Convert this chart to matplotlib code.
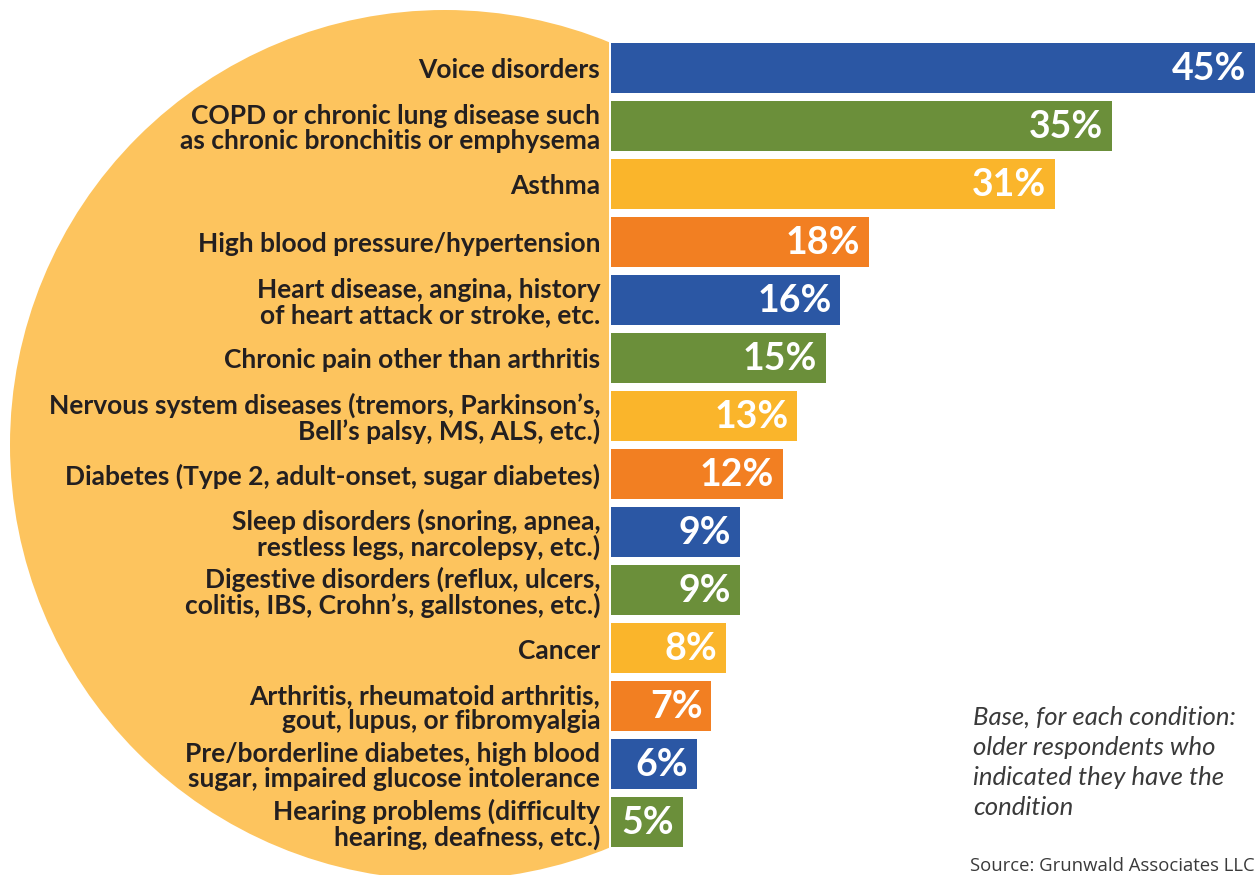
import matplotlib.pyplot as plt
from matplotlib.patches import Circle

conditions = [
    "Voice disorders",
    "COPD or chronic lung disease such\nas chronic bronchitis or emphysema",
    "Asthma",
    "High blood pressure/hypertension",
    "Heart disease, angina, history\nof heart attack or stroke, etc.",
    "Chronic pain other than arthritis",
    "Nervous system diseases (tremors, Parkinson\u2019s,\nBell\u2019s palsy, MS, ALS, etc.)",
    "Diabetes (Type 2, adult-onset, sugar diabetes)",
    "Sleep disorders (snoring, apnea,\nrestless legs, narcolepsy, etc.)",
    "Digestive disorders (reflux, ulcers,\ncolitis, IBS, Crohn\u2019s, gallstones, etc.)",
    "Cancer",
    "Arthritis, rheumatoid arthritis,\ngout, lupus, or fibromyalgia",
    "Pre/borderline diabetes, high blood\nsugar, impaired glucose intolerance",
    "Hearing problems (difficulty\nhearing, deafness, etc.)",
]
percents = [45, 35, 31, 18, 16, 15, 13, 12, 9, 9, 8, 7, 6, 5]
palette = ["#2b57a4", "#6b8f3a", "#fab52b", "#f27f22"]

note = "Base, for each condition:\nolder respondents who\nindicated they have the\ncondition"
source = "Source: Grunwald Associates LLC"

W, H = 1256, 875
fig = plt.figure(figsize=(W / 100, H / 100), dpi=100)
fig.patch.set_facecolor("white")

# background circle, cut off where the bars begin
bg = fig.add_axes([0, 0, 609 / W, 1])
bg.set_xlim(0, 609)
bg.set_ylim(H, 0)
bg.axis("off")
bg.add_patch(Circle((445, 445), 435, color="#fdc45e", lw=0))

# bars
ax = fig.add_axes([611 / W, 0, (W - 611) / W, 1])
ax.set_zorder(2)
ax.patch.set_alpha(0)
ypos = list(range(len(percents)))
colors = [palette[i % 4] for i in ypos]
ax.barh(ypos, percents, height=50 / 58, color=colors)
ax.set_xlim(0, 45.05)
ax.set_ylim(13.92, -1.164)
ax.axis("off")

for i, (lab, v) in enumerate(zip(conditions, percents)):
    ax.text(-0.75, i + 0.05, lab, ha="right", va="center", fontsize=19,
            family="Lato", fontweight="bold", color="#231f20",
            linespacing=1.03, clip_on=False)
    ax.text(v - 0.6, i + 0.02, f"{v}%", ha="right", va="center", fontsize=27,
            family="Lato", fontweight="bold", color="white")

fig.text(973 / W, 1 - 706 / H, note, ha="left", va="top", fontsize=18.5,
         family="Lato", style="italic", color="#3a3a3a",
         linespacing=1.37)
fig.text(970 / W, 1 - 866 / H, source, ha="left", va="center", fontsize=13.3,
         family="Open Sans", color="#3a3a3a")

fig.savefig("out.png", dpi=100, facecolor="white")
